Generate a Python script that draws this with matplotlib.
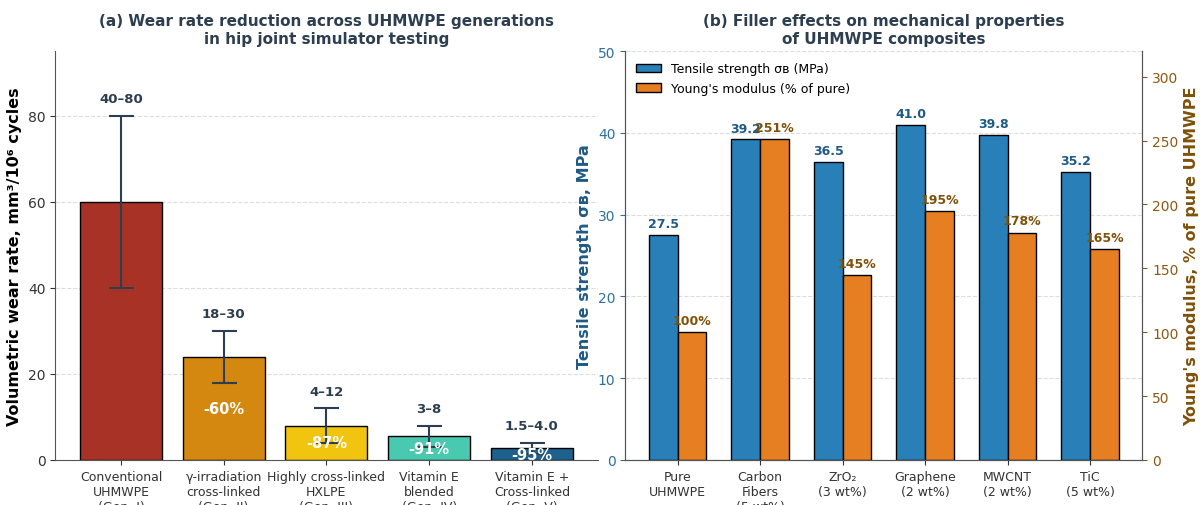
import numpy as np
import matplotlib
matplotlib.use("Agg")
import matplotlib.pyplot as plt

# (a) wear rate
gens = ["Conventional\nUHMWPE\n(Gen. I)", "γ-irradiation\ncross-linked\n(Gen. II)",
        "Highly cross-linked\nHXLPE\n(Gen. III)", "Vitamin E\nblended\n(Gen. IV)",
        "Vitamin E +\nCross-linked\n(Gen. V)"]
wear = [60, 24, 8, 5.5, 2.75]
wear_lo = [40, 18, 4, 3, 1.5]
wear_hi = [80, 30, 12, 8, 4.0]
range_txt = ["40–80", "18–30", "4–12", "3–8", "1.5–4.0"]
reduction = [None, "-60%", "-87%", "-91%", "-95%"]
gen_colors = ["#a93226", "#d4880f", "#f1c40f", "#48c9b0", "#1f618d"]

# (b) fillers
fillers = ["Pure\nUHMWPE", "Carbon\nFibers\n(5 wt%)", "ZrO₂\n(3 wt%)", "Graphene\n(2 wt%)",
           "MWCNT\n(2 wt%)", "TiC\n(5 wt%)"]
tensile = [27.5, 39.2, 36.5, 41.0, 39.8, 35.2]
modulus = [100, 251, 145, 195, 178, 165]

dark = "#2c3e50"
blue = "#2980b9"
orange = "#e67e22"
blue_txt = "#1f5a85"
brown = "#7e5109"

fig = plt.figure(figsize=(12, 5.06), dpi=100)
ax = fig.add_axes([0.046, 0.089, 0.452, 0.808])
ax1 = fig.add_axes([0.521, 0.089, 0.431, 0.808])

# ---- panel a
x = np.arange(len(gens))
err = [np.array(wear) - np.array(wear_lo), np.array(wear_hi) - np.array(wear)]
ax.bar(x, wear, width=0.8, color=gen_colors, edgecolor="black", linewidth=1, zorder=2)
ax.errorbar(x, wear, yerr=err, fmt="none", ecolor=dark, elinewidth=1.5, capsize=9, capthick=1.5, zorder=3)
for i in range(len(x)):
    ax.text(x[i], wear_hi[i] + 2.5, range_txt[i], ha="center", va="bottom",
            fontsize=9.5, fontweight="bold", color=dark)
    if reduction[i]:
        ax.text(x[i], wear[i] / 2, reduction[i], ha="center", va="center",
                fontsize=10.5, fontweight="bold", color="white", zorder=4)
ax.set_ylim(0, 95)
ax.set_xticks(x)
ax.set_xticklabels(gens)
ax.set_ylabel("Volumetric wear rate, mm³/10⁶ cycles", fontsize=11.5, fontweight="bold")
ax.set_title("(a) Wear rate reduction across UHMWPE generations\nin hip joint simulator testing",
             fontsize=11, fontweight="bold", color=dark)
ax.yaxis.grid(True, linestyle="--", color="#dddddd", linewidth=0.8, zorder=0)
ax.set_axisbelow(True)
for s in ["top", "right"]:
    ax.spines[s].set_visible(False)
for s in ["left", "bottom"]:
    ax.spines[s].set_color("#555555")
ax.tick_params(axis="y", colors="#333333", labelsize=10)
ax.tick_params(axis="x", colors="#333333", labelsize=9)

# ---- panel b
xf = np.arange(len(fillers))
w = 0.35
ax2 = ax1.twinx()
b1 = ax1.bar(xf - w / 2, tensile, w, color=blue, edgecolor="black", linewidth=1,
             label="Tensile strength σв (MPa)", zorder=2)
b2 = ax2.bar(xf + w / 2, modulus, w, color=orange, edgecolor="black", linewidth=1,
             label="Young's modulus (% of pure)", zorder=2)
for i in range(len(xf)):
    ax1.text(xf[i] - w / 2, tensile[i] + 0.6, f"{tensile[i]:.1f}", ha="center", va="bottom",
             fontsize=9, fontweight="bold", color=blue_txt)
    ax2.text(xf[i] + w / 2, modulus[i] + 4, f"{modulus[i]}%", ha="center", va="bottom",
             fontsize=9, fontweight="bold", color=brown)
ax1.set_ylim(0, 50)
ax2.set_ylim(0, 320)
ax1.set_xticks(xf)
ax1.set_xticklabels(fillers)
ax1.set_ylabel("Tensile strength σв, MPa", fontsize=11.5, fontweight="bold", color=blue_txt)
ax2.set_ylabel("Young's modulus, % of pure UHMWPE", fontsize=11.5, fontweight="bold", color=brown)
ax1.tick_params(axis="y", colors="#2e6f9e", labelsize=10)
ax2.tick_params(axis="y", colors="#8a5a12", labelsize=10)
ax1.tick_params(axis="x", colors="#333333", labelsize=9)
ax1.yaxis.grid(True, linestyle="--", color="#dddddd", linewidth=0.8, zorder=0)
ax1.set_axisbelow(True)
ax1.set_title("(b) Filler effects on mechanical properties\nof UHMWPE composites",
              fontsize=11, fontweight="bold", color=dark)
for a in (ax1, ax2):
    a.spines["top"].set_visible(False)
    for s in ["left", "right", "bottom"]:
        a.spines[s].set_color("#555555")
ax1.legend([b1, b2], [b1.get_label(), b2.get_label()], loc="upper left", frameon=False, fontsize=9)

fig.savefig("out.png", dpi=100)
